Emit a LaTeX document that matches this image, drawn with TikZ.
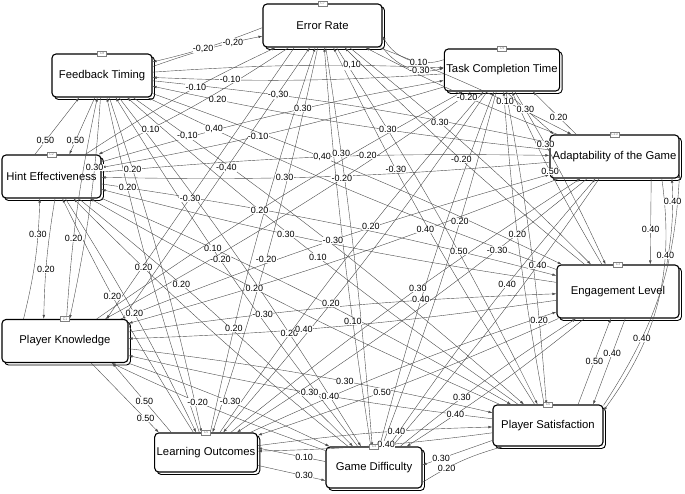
\documentclass[tikz,border=0pt]{standalone}
\usepackage{fontspec}
\setmainfont{Liberation Sans}
\usetikzlibrary{arrows.meta}
\usetikzlibrary{shadows}
\usetikzlibrary{positioning}

% from/to/weight/label position/bend
\def\fcmlinks{
  c7.182/c8.15/{-0,20}/0.55/4, c8.10/c7.190/{-0,20}/0.75/4,
  c9.170/c7.350/0.10/0.35/40, c7.340/c9.178/-0.30/0.65/-35,
  c2.127/c8.224/{0,50}/0.22/0, c8.252/c2.51/{0,50}/0.78/0,
  c1.152/c2.242/0.30/0.72/-6, c2.279/c1.134/0.20/0.6/-4,
  c1.320/c5.157/0.50/0.82/0, c5.150/c1.335/0.50/0.45/0,
  c4.173/c5.5/0.10/0.3/0, c5.346/c4.195/0.30/0.7/0,
  c6.195/c4.3/0.30/0.75/0, c4.343/c6.205/0.20/0.3/8,
  c6.35/c3.255/0.50/0.5/0, c3.285/c6.25/0.40/0.4/0,
  c10.329/c3.40/0.40/0.6/0, c3.29/c10.339/0.40/0.75/-6,
  c10.150/c9.325/0.20/0.4/0, c9.280/c10.160/0.30/0.4/0,
  c6.20/c10.345/0.40/0.3/-15, c10.335/c6.15/0.40/0.3/22,
  c7/c2/0.10/0.75/4, c2/c7/-0.10/0.6/4,
  c7.218/c1.28/-0.30/0.56/0, c1.21/c7.240/{-0,40}/0.56/0,
  c7/c5/-0.20/0.55/3, c5/c7/0.20/0.25/3,
  c7/c4/0.30/0.25/2, c4/c7/0.10/0.3/2,
  c7/c6/0.30/0.22/3, c6/c7/-0.30/0.68/3,
  c7/c3/0.30/0.35/3, c3/c7/-0.20/0.5/3,
  c7/c10/0.10/0.66/3, c10/c7/-0.20/0.46/3,
  c8/c9/{0,10}/0.7/3, c9/c8/-0.10/0.75/3,
  c8/c10/{-0,30}/0.3/3, c10/c8/0.20/0.85/3,
  c8/c3/{0,40}/0.4/3, c3/c8/{0,40}/0.85/3,
  c8/c6/{-0,10}/0.12/3, c6/c8/0.10/0.5/3,
  c8/c4/0.20/0.7/3, c4/c8/-0.20/0.55/3,
  c8/c5/0.20/0.2/3, c5/c8/0.20/0.75/3,
  c8/c1/0.30/0.3/4, c1/c8/0.20/0.35/4,
  c9/c2/-0.10/0.55/3, c2/c9/0.30/0.6/3,
  c9/c1/-0.20/0.35/3, c1/c9/0.20/0.45/3,
  c9/c5/0.20/0.62/3, c5/c9/0.20/0.6/3,
  c9/c4/0.20/0.35/3, c4/c9/0.40/0.4/3,
  c9/c6/0.20/0.75/3, c6/c9/0.20/0.55/3,
  c9/c3/0.30/0.3/3, c3/c9/0.50/0.55/3,
  c10/c2/0.30/0.6/3, c2/c10/-0.20/0.6/3,
  c10/c1/0.40/0.3/3, c1/c10/-0.30/0.5/3,
  c10/c5/-0.30/0.25/3, c5/c10/0.30/0.55/3,
  c10/c4/0.40/0.3/3, c4/c10/0.40/0.6/3,
  c2/c3/0.50/0.8/3, c3/c2/0.30/0.6/3,
  c2/c6/0.10/0.25/3, c6/c2/0.20/0.6/3,
  c2/c4/0.20/0.35/3, c4/c2/0.20/0.75/3,
  c2/c5/0.20/0.5/3, c5/c2/0.20/0.6/3,
  c1/c3/-0.30/0.3/3, c3/c1/0.40/0.6/3,
  c1/c6/0.30/0.6/3, c6/c1/0.30/0.5/3,
  c1/c4/-0.30/0.5/3, c4/c1/-0.20/0.6/3,
  c5/c3/0.40/0.25/3, c3/c5/0.50/0.6/3,
  c5/c6/0.40/0.6/3, c6/c5/0.40/0.45/3,
  c4/c3/0.30/0.35/3, c3/c4/0.40/0.75/3}

\begin{document}
\begin{tikzpicture}[x=1pt,y=-1pt,
                    concept/.style={draw,rounded corners=4pt,line width=1.1pt,
                                    fill=white,minimum height=43pt,inner sep=2pt,
                                    font=\fontsize{11.3}{13}\selectfont,
                                    copy shadow={shadow xshift=2.5pt,shadow yshift=-2.5pt,
                                                 draw=black,fill=white,line width=0.9pt}},
                    tag/.style={draw=gray,fill=white,inner sep=0.5pt,minimum width=9pt,
                                minimum height=5pt,font=\fontsize{3.5}{4}\selectfont,
                                text=gray},
                    link/.style={draw=black!70,line width=0.4pt,
                                 -{Latex[length=4pt,width=2.6pt]}},
                    weight/.style={fill=white,inner sep=0.4pt,
                                   font=\fontsize{9}{9}\selectfont}]
\useasboundingbox (0,0) rectangle (685,493);
% concepts
\node [concept,minimum width=126pt] (c1) at (65,341) {Player Knowledge};
\node [concept,minimum width=99pt] (c2) at (51.5,176.5) {Hint Effectiveness};
\node [concept,minimum width=122pt,minimum height=53pt] (c3) at (618,291.5) {Engagement Level};
\node [concept,minimum width=96pt,minimum height=41pt] (c4) at (374,467.5) {Game Difficulty};
\node [concept,minimum width=102pt,minimum height=39pt] (c5) at (206,452.5) {Learning Outcomes};
\node [concept,minimum width=110pt,minimum height=41pt] (c6) at (548,425.5) {Player Satisfaction};
\node [concept,minimum width=119pt] (c7) at (322.5,25.5) {Error Rate};
\node [concept,minimum width=100pt] (c8) at (102,75.5) {Feedback Timing};
\node [concept,minimum width=112pt,minimum height=42pt] (c9) at (502,70) {Task Completion Time};
\node [concept,minimum width=129pt] (c10) at (614.5,156.5) {Adaptability of the Game};
% connections, then the weights on top
\foreach \from/\to/\w/\p/\b in \fcmlinks
  \draw [link] (\from) to [bend left=\b] (\to);
\foreach \from/\to/\w/\p/\b in \fcmlinks
  \path (\from) to [bend left=\b] node [weight,pos=\p] {\w} (\to);
% concept tags
\foreach \c/\t in {c1/C1,c2/C2,c3/C3,c4/C4,c5/C5,c6/C6,c7/C7,c8/C8,c9/C9,c10/C10}
  \node [tag] at (\c.north) {\t};
\end{tikzpicture}
\end{document}
